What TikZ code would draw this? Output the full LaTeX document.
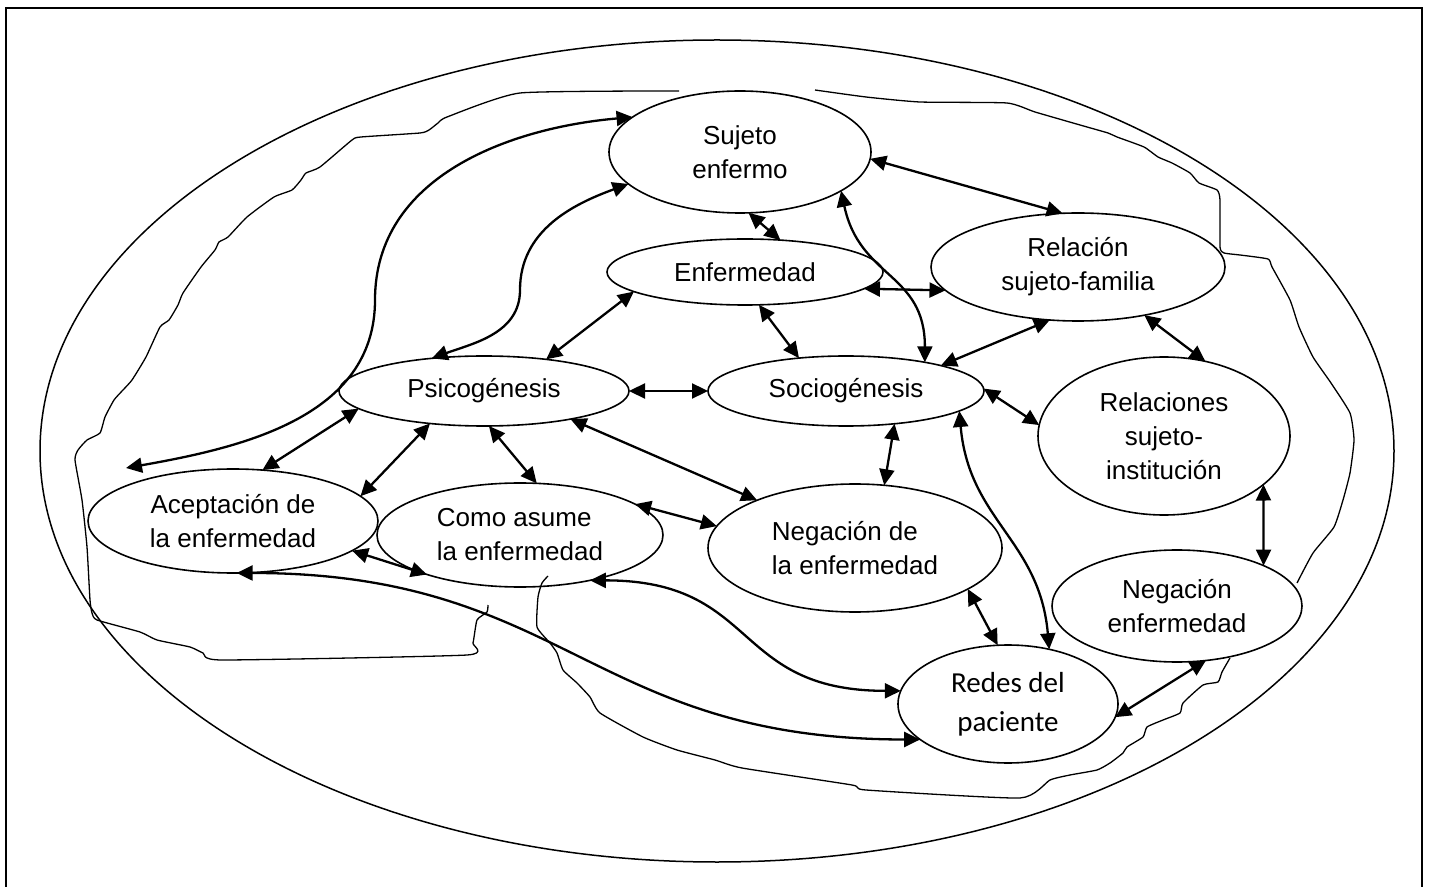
\documentclass[tikz,border=0pt]{standalone}
\usepackage{fontspec}
\setmainfont{Liberation Sans}
\newfontfamily\calibrifont{Carlito}
\usetikzlibrary{arrows.meta,shapes.geometric}
\def\headlen{8pt}
\tikzset{
  concept/.style={shape=ellipse, draw=black, line width=0.8pt, inner sep=0pt, outer sep=0pt,
    align=center, font=\fontsize{13}{17}\selectfont},
  link/.style={{Triangle[length=\headlen,width=7.5pt]}-{Triangle[length=\headlen,width=7.5pt]}, line width=1.15pt},
  contour/.style={line width=0.65pt, line join=round},
}

\begin{document}
\begin{tikzpicture}[
      x=0.5pt,y=0.5pt,
      ]
      \useasboundingbox (0,0) rectangle (1430,-887);
      \draw[line width=1pt] (6,-895) -- (6,-8) -- (1422,-8) -- (1422,-895);
      \draw[line width=0.75pt] (717,-451) ellipse [x radius=677, y radius=411];

      % concepts
      \node[concept, minimum width=131pt, minimum height=61pt] (sujeto) at (740,-152) {Sujeto\\enfermo};
      \node[concept, minimum width=138pt, minimum height=33pt] (enf) at (745,-272) {Enfermedad};
      \node[concept, minimum width=147pt, minimum height=54pt] (relfam) at (1078,-267) {Relación\\sujeto-familia};
      \node[concept, minimum width=145pt, minimum height=35pt] (psico) at (484,-391) {Psicogénesis};
      \node[concept, minimum width=138pt, minimum height=35pt] (socio) at (846,-391) {Sociogénesis};
      \node[concept, minimum width=126pt, minimum height=79pt] (relinst) at (1164,-436) {Relaciones\\sujeto-\\institución};
      \node[concept, minimum width=145pt, minimum height=52pt] (acept) at (233,-521) {Aceptación de\\la enfermedad};
      \node[concept, minimum width=143pt, minimum height=52pt, align=left] (como) at (520,-535) {Como asume\\la enfermedad};
      \node[concept, minimum width=147pt, minimum height=64pt, align=left] (negde) at (855,-548) {Negación de\\la enfermedad};
      \node[concept, minimum width=125pt, minimum height=56pt] (negenf) at (1177,-606) {Negación\\enfermedad};
      \node[concept, minimum width=110pt, minimum height=59pt,
        font=\calibrifont\fontsize{14.5}{19.5}\selectfont] (redes) at (1008,-704) {Redes del\\paciente};
      \coordinate (leftend) at (126,-468);

      % straight links
      \draw[link] (sujeto.-3) -- (relfam.106);
      \draw[link] (sujeto.-82) -- (enf.42);
      \draw[link] (enf.-8) -- (relfam.190);
      \draw[link] (enf.190) -- (psico.27);
      \draw[link] (enf.-67) -- (socio.145);
      \draw[link] (socio.15) -- (relfam.-118);
      \draw[link] (relfam.-36) -- (relinst.61);
      \draw[link] (psico.0) -- (socio.180);
      \draw[link] (socio.1) -- (relinst.175);
      \draw[link] (relinst.-26) -- (negenf.25);
      \draw[link] (socio.-34) -- (negde.65);
      \draw[link] (negde.-20) -- (redes.100);
      \draw[link] (negenf.-62) -- (redes.-7);
      \draw[link] (psico.188) -- (acept.60);
      \draw[link] (psico.211) -- (acept.11);
      \draw[link] (psico.-82) -- (como.72);
      \draw[link] (psico.-18) -- (negde.154);
      \draw[link] (como.15) -- (negde.171);
      \draw[link] (acept.-14) -- (como.203);

      % curved links
      \draw[link] (sujeto.-21) .. controls +(-78:90) and +(90:90) .. (socio.20);
      \draw[link] (socio.-10) .. controls +(-85:110) and +(95:110) .. (redes.53);
      \draw[link] (acept.-86) .. controls +(0:330) and +(180:330) .. (redes.202);
      \draw[link] (como.-33) .. controls +(0:170) and +(180:170) .. (redes.173);
      \draw[link] (sujeto.162) to[out=185,in=90] (375,-300) to[out=-90,in=10] (leftend);
      \draw[link] (sujeto.196) to[out=200,in=90] (520,-290) to[out=-90,in=20] (psico.148);

      % free contours
      \draw[contour] plot[smooth, tension=0.3] coordinates {
        (679,-91) (520,-93) (447,-117) (438,-123) (429,-130) (420,-133) (361,-137) (352,-140)
        (320,-167) (306,-173) (301,-180) (292,-190) (274,-197) (247,-217) (228,-237) (219,-242)
        (215,-250) (201,-267) (183,-293) (178,-305) (169,-320) (160,-327) (146,-357) (132,-380)
        (123,-390) (114,-400) (105,-417) (100,-433) (87,-440) (78,-450) (75,-460) (82,-500)
        (87,-547) (90,-600) (92,-613) (97,-620) (140,-632) (157,-640) (190,-647) (203,-653)
        (222,-660) (467,-655) (473,-643) (477,-620) (487,-612) (488,-605)};
      \draw[contour] plot[smooth, tension=0.3] coordinates {
        (815,-90) (866,-97) (920,-102) (1007,-103) (1035,-112) (1080,-125) (1108,-133) (1117,-137)
        (1144,-147) (1158,-157) (1172,-163) (1190,-173) (1199,-183) (1217,-190) (1220,-200)
        (1220,-247) (1224,-253) (1240,-255) (1268,-259) (1272,-267) (1290,-300) (1299,-327)
        (1313,-357) (1331,-383) (1350,-413) (1354,-440) (1350,-473) (1343,-500) (1334,-527)
        (1313,-553) (1297,-583)};
      \draw[contour] plot[smooth, tension=0.3] coordinates {
        (1230,-658) (1222,-672) (1218,-682) (1203,-685) (1183,-703) (1180,-713) (1163,-720)
        (1147,-727) (1143,-737) (1127,-747) (1123,-753) (1110,-763) (1097,-770) (1070,-775)
        (1050,-780) (1020,-798) (866,-790) (852,-785) (742,-768) (715,-760) (677,-750)
        (643,-737) (600,-713) (590,-697) (577,-683) (563,-670) (557,-653) (550,-643)
        (537,-627) (538,-597) (542,-583) (548,-576)};
\end{tikzpicture}
\end{document}
